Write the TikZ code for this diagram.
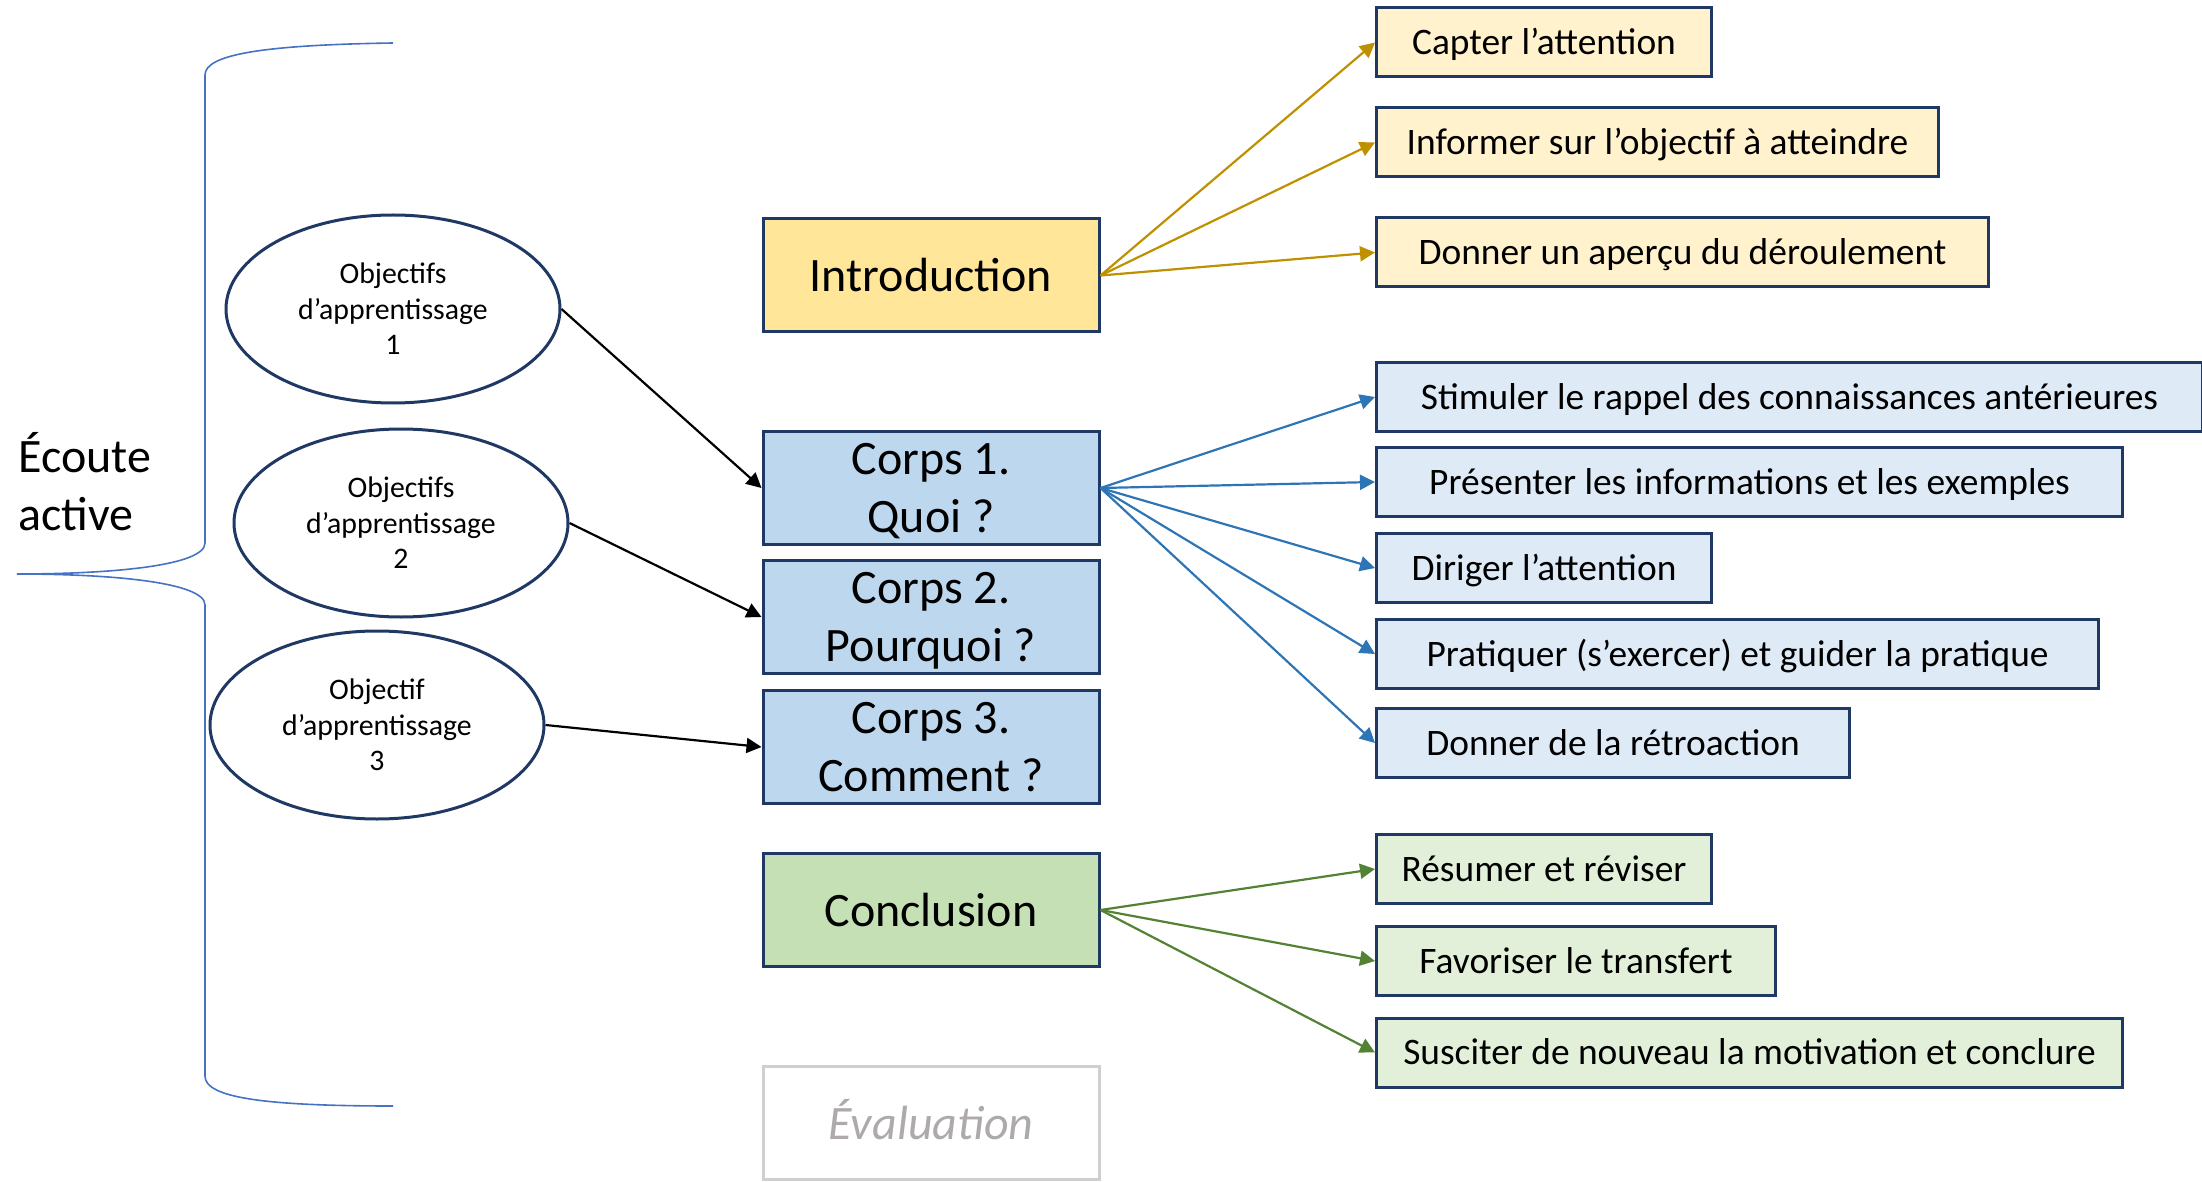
\documentclass[tikz,border=0pt]{standalone}
\usepackage{fontspec}
\setmainfont{Carlito}
\usetikzlibrary{arrows.meta,shapes.geometric}

\definecolor{navy}{HTML}{1F3864}
\definecolor{introfill}{HTML}{FFE699}
\definecolor{introlight}{HTML}{FFF2CC}
\definecolor{introarrow}{HTML}{BF9000}
\definecolor{corpsfill}{HTML}{BDD7EE}
\definecolor{corpslight}{HTML}{DEEBF7}
\definecolor{corpsarrow}{HTML}{2E75B6}
\definecolor{conclfill}{HTML}{C5E0B4}
\definecolor{concllight}{HTML}{E2F0D9}
\definecolor{conclarrow}{HTML}{548235}
\definecolor{evalborder}{HTML}{D0CECE}
\definecolor{evaltext}{HTML}{AEAAAA}
\definecolor{bracecol}{HTML}{4472C4}

\tikzset{
  bigbox/.style={draw=navy, line width=1.5pt, minimum width=168pt, minimum height=56.5pt,
    inner sep=0pt, align=center, font=\fontsize{24}{29}\selectfont},
  smallbox/.style={draw=navy, line width=1.5pt, minimum height=34.5pt, inner sep=0pt,
    text height=13pt, text depth=1pt, anchor=west, font=\fontsize{18.7}{22}\selectfont},
  objective/.style={ellipse, draw=navy, line width=1.5pt, minimum width=167pt, minimum height=94pt,
    inner sep=0pt, align=center, font=\fontsize{14.9}{17.75}\selectfont},
  link/.style={line width=1.1pt, -{Triangle[length=7.5pt,width=7.5pt]}}
}

\begin{document}
\begin{tikzpicture}[x=0.5pt, y=-0.5pt]
    \useasboundingbox (0,0) rectangle (2202,1182);

    \draw[bracecol, line width=0.8pt] (393,43) .. controls (260,45) and (205,55) .. (205,75) -- (205,543) .. controls (205,566) and (110,574) .. (17,574);
    \draw[bracecol, line width=0.8pt] (17,574) .. controls (110,574) and (205,582) .. (205,605) -- (205,1076) .. controls (205,1097) and (260,1106) .. (393,1106);
    \node[anchor=west, inner sep=0pt, align=left, font=\fontsize{24}{29}\selectfont] (ecoute) at (18,482) {Écoute\\active};

    \node[objective] (obj1) at (393,309) {Objectifs\\d’apprentissage\\1};
    \node[objective] (obj2) at (401,523) {Objectifs\\d’apprentissage\\2};
    \node[objective] (obj3) at (377,725) {Objectif\\d’apprentissage\\3};

    \node[bigbox, fill=introfill] (intro) at (931,275.5) {Introduction};
    \node[bigbox, fill=corpsfill, text depth=0pt] (corps1) at (931,488) {Corps 1.\\Quoi ?};
    \node[bigbox, fill=corpsfill, text depth=0pt] (corps2) at (931,617) {Corps 2.\\Pourquoi ?};
    \node[bigbox, fill=corpsfill, text depth=0pt] (corps3) at (931,747) {Corps 3.\\Comment ?};
    \node[bigbox, fill=conclfill] (concl) at (931,910) {Conclusion};
    \node[bigbox, draw=evalborder, text=evaltext, text height=17pt, text depth=0pt,
      font=\fontsize{24}{29}\selectfont\itshape] (eval) at (931,1122.5) {Évaluation};

    \node[smallbox, fill=introlight, minimum width=167.5pt] (capter) at (1375,42.5) {Capter l’attention};
    \node[smallbox, fill=introlight, minimum width=281pt] (informer) at (1375,142.5) {Informer sur l’objectif à atteindre};
    \node[smallbox, fill=introlight, minimum width=306pt] (apercu) at (1375,252.5) {Donner un aperçu du déroulement};

    \node[smallbox, fill=corpslight, minimum width=413pt] (rappel) at (1375,397) {Stimuler le rappel des connaissances antérieures};
    \node[smallbox, fill=corpslight, minimum width=373pt] (presenter) at (1375,482) {Présenter les informations et les exemples};
    \node[smallbox, fill=corpslight, minimum width=167.5pt] (diriger) at (1375,568) {Diriger l’attention};
    \node[smallbox, fill=corpslight, minimum width=361pt] (pratiquer) at (1375,654) {Pratiquer (s’exercer) et guider la pratique};
    \node[smallbox, fill=corpslight, minimum width=236.5pt] (retro) at (1375,743) {Donner de la rétroaction};

    \node[smallbox, fill=concllight, minimum width=167.5pt] (resumer) at (1375,869) {Résumer et réviser};
    \node[smallbox, fill=concllight, minimum width=199.5pt] (transfert) at (1375,961) {Favoriser le transfert};
    \node[smallbox, fill=concllight, minimum width=373pt] (motivation) at (1375,1052.5) {Susciter de nouveau la motivation et conclure};

    \draw[link] (obj1.east) -- (corps1.west);
    \draw[link] (obj2.east) -- (corps2.west);
    \draw[link] (obj3.east) -- (corps3.west);

    \draw[link, introarrow] (intro.east) -- (capter.west);
    \draw[link, introarrow] (intro.east) -- (informer.west);
    \draw[link, introarrow] (intro.east) -- (apercu.west);

    \draw[link, corpsarrow] (corps1.east) -- (rappel.west);
    \draw[link, corpsarrow] (corps1.east) -- (presenter.west);
    \draw[link, corpsarrow] (corps1.east) -- (diriger.west);
    \draw[link, corpsarrow] (corps1.east) -- (pratiquer.west);
    \draw[link, corpsarrow] (corps1.east) -- (retro.west);

    \draw[link, conclarrow] (concl.east) -- (resumer.west);
    \draw[link, conclarrow] (concl.east) -- (transfert.west);
    \draw[link, conclarrow] (concl.east) -- (motivation.west);
\end{tikzpicture}
\end{document}
